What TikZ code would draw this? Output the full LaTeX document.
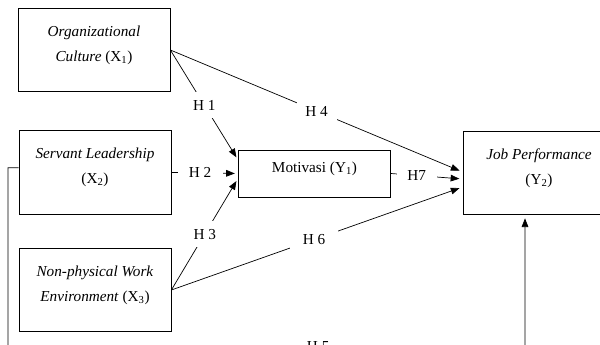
\documentclass[tikz,border=0pt]{standalone}
\usepackage{fontspec}
\setmainfont{Liberation Serif}
\usetikzlibrary{arrows.meta}

\begin{document}
\begin{tikzpicture}[x=0.03cm, y=-0.03cm, line width=0.6pt,
    font=\fontsize{13}{21.5}\selectfont,
    var/.style={draw, minimum width=4.56cm, minimum height=2.5cm, align=center, text depth=0.4cm},
    hyp/.style={fill=white, inner sep=0pt, minimum width=1.2cm, minimum height=0.8cm},
    arr/.style={-{Triangle[length=2.6mm,width=2mm]}, shorten >=0.1cm}]
    % visible part only
    \useasboundingbox (0,0) rectangle (600,345);
    \clip (0,0) rectangle (600,345);

    % Nodes
    \node[var] (oc) at (94,50) {\textit{Organizational}\\\textit{Culture} (X\textsubscript{1})};
    \node[var] (sl) at (95,172.5) {\textit{Servant Leadership}\\(X\textsubscript{2})};
    \node[var] (nw) at (95,290) {\textit{Non-physical Work}\\\textit{Environment} (X\textsubscript{3})};
    \node[var, minimum height=1.41cm] (mo) at (314.5,173.5) {Motivasi (Y\textsubscript{1})};
    \node[var] (jp) at (539,173) {\textit{Job Performance}\\(Y\textsubscript{2})};
    \coordinate (c1) at (8,347);
    \coordinate (c2) at (525,347);

    % Edges
    \draw[arr] (oc.east) -- node[hyp] {H 1} ([yshift=0.4cm]mo.west);
    \draw[arr] (oc.east) -- node[hyp] {H 4} ([yshift=0.03cm]jp.west);
    \draw[arr] (sl.east) -- node[hyp, pos=0.43, minimum width=1.35cm] {H 2} (mo.west);
    \draw[arr] (nw.east) -- node[hyp] {H 3} ([yshift=-0.14cm]mo.west);
    \draw[arr] (nw.east) -- node[hyp, pos=0.49, minimum width=1.45cm] {H 6} ([yshift=-0.42cm]jp.west);
    \draw[arr] (mo.east) -- node[hyp, pos=0.36] {H7} ([yshift=-0.18cm]jp.west);
    \draw[arr] ([yshift=0.14cm]sl.west) -| (c1) -- node[hyp, pos=0.6] {H 5} (c2) -- ([xshift=-0.42cm]jp.south);
\end{tikzpicture}
\end{document}
